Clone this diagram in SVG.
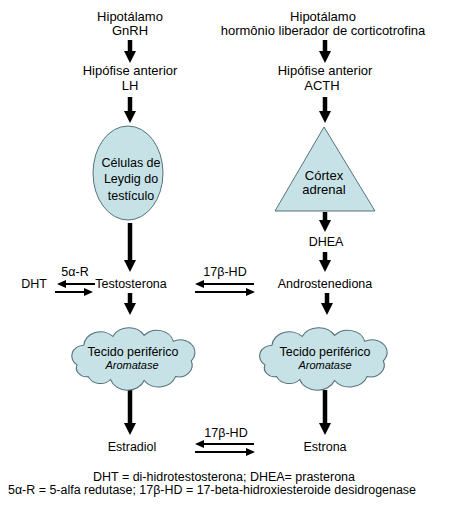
<svg xmlns="http://www.w3.org/2000/svg" width="450" height="509" viewBox="0 0 450 509">
<style>
text{font-family:"Liberation Sans",Arial,sans-serif;font-size:13px;fill:#000;text-anchor:middle}
.sm{font-size:12.5px}
.it{font-style:italic;font-size:11px}
.ft{font-size:12px}
.shape{fill:#c6e2e6;stroke:#56727a;stroke-width:1}
.big{stroke:#000;stroke-width:4.5;fill:none;marker-end:url(#hb)}
.thin{stroke:#000;stroke-width:2;fill:none;marker-end:url(#hs)}
</style>
<defs>
<marker id="hb" markerUnits="userSpaceOnUse" markerWidth="12" markerHeight="12" viewBox="0 0 12 12" refX="0" refY="6" orient="auto"><path d="M0,0 L12,6 L0,12 z" fill="#000"/></marker>
<marker id="hs" markerUnits="userSpaceOnUse" markerWidth="9" markerHeight="8" viewBox="0 0 9 8" refX="0" refY="4" orient="auto"><path d="M0,0 L9,4 L0,8 z" fill="#000"/></marker>
<path id="cloud" d="M-50,8 A11 11 0 0 1 -44,-12 A15 15 0 0 1 -18,-21 A16 16 0 0 1 10,-22 A15 15 0 0 1 36,-16 A13 13 0 0 1 52,4 A12 12 0 0 1 38,20 A16 16 0 0 1 10,24 A16 16 0 0 1 -20,23 A12 12 0 0 1 -40,20 A9 9 0 0 1 -50,8 Z"/>
</defs>
<rect width="450" height="509" fill="#fff"/>
<g id="connectors">
<line class="big" x1="130" y1="40" x2="130" y2="51"/>
<line class="big" x1="130" y1="97" x2="130" y2="111"/>
<line class="big" x1="130" y1="223" x2="130" y2="260"/>
<line class="big" x1="130" y1="293" x2="130" y2="303"/>
<line class="big" x1="130" y1="390" x2="130" y2="423"/>
<line class="big" x1="325" y1="40" x2="325" y2="51"/>
<line class="big" x1="325" y1="97" x2="325" y2="111"/>
<line class="big" x1="325" y1="212" x2="325" y2="220"/>
<line class="big" x1="325" y1="252" x2="325" y2="260"/>
<line class="big" x1="327" y1="293" x2="327" y2="303"/>
<line class="big" x1="325" y1="390" x2="325" y2="423"/>
<line class="thin" x1="95" y1="284" x2="66" y2="284"/>
<line class="thin" x1="55" y1="292" x2="84" y2="292"/>
<line class="thin" x1="254" y1="284" x2="204" y2="284"/>
<line class="thin" x1="195" y1="292" x2="246" y2="292"/>
<line class="thin" x1="254" y1="444" x2="204" y2="444"/>
<line class="thin" x1="195" y1="452" x2="246" y2="452"/>
</g>
<g id="hipotalamo-l"><text x="130" y="21">Hipotálamo</text><text x="130" y="35">GnRH</text></g>
<g id="hipofise-l"><text x="130" y="75">Hipófise anterior</text><text x="130" y="90">LH</text></g>
<g id="hipotalamo-r"><text x="323" y="21">Hipotálamo</text><text x="323" y="35">hormônio liberador de corticotrofina</text></g>
<g id="hipofise-r"><text x="325" y="75">Hipófise anterior</text><text x="322" y="90">ACTH</text></g>
<g id="leydig"><ellipse class="shape" cx="128" cy="173" rx="35" ry="47"/><text x="131" y="167" class="sm">Células de</text><text x="131" y="183" class="sm">Leydig do</text><text x="131" y="200" class="sm">testículo</text></g>
<g id="cortex"><polygon class="shape" points="324,127 375,211 275,211"/><text x="324" y="180">Córtex</text><text x="324" y="194">adrenal</text></g>
<g id="dhea"><text x="326" y="246" class="sm">DHEA</text></g>
<g id="dht"><text x="34" y="288" class="sm">DHT</text><text x="75" y="276" class="sm">5α-R</text></g>
<g id="testosterona"><text x="131" y="288" class="sm">Testosterona</text></g>
<g id="hd1"><text x="225" y="276" class="sm">17β-HD</text></g>
<g id="androstenediona"><text x="325" y="288" class="sm">Androstenediona</text></g>
<g id="tecido-l"><use href="#cloud" class="shape" transform="translate(133,357) scale(1.12,0.98)"/><text x="133" y="355.5" class="sm">Tecido periférico</text><text x="132" y="368.5" class="it">Aromatase</text></g>
<g id="tecido-r"><use href="#cloud" class="shape" transform="translate(323,357) scale(1.16,0.98)"/><text x="325" y="355.5" class="sm">Tecido periférico</text><text x="325" y="368.5" class="it">Aromatase</text></g>
<g id="estradiol"><text x="132" y="451" class="sm">Estradiol</text></g>
<g id="hd2"><text x="226" y="437" class="sm">17β-HD</text></g>
<g id="estrona"><text x="325" y="451" class="sm">Estrona</text></g>
<g id="legenda"><text x="224" y="481" class="ft" textLength="262" lengthAdjust="spacingAndGlyphs">DHT = di-hidrotestosterona; DHEA= prasterona</text><text x="212" y="494" class="ft" textLength="408" lengthAdjust="spacingAndGlyphs">5α-R = 5-alfa redutase; 17β-HD = 17-beta-hidroxiesteroide desidrogenase</text></g>
</svg>
